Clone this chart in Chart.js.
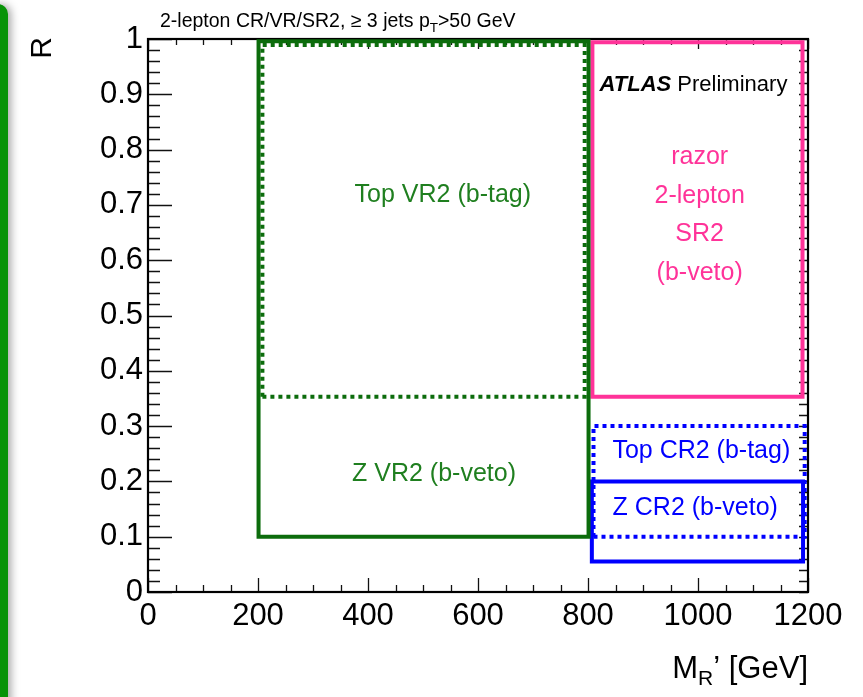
<!DOCTYPE html>
<html>
<head>
<meta charset="utf-8">
<script src="https://cdn.jsdelivr.net/npm/chart.js@4.4.0/dist/chart.umd.min.js"></script>
<style>
  html, body { margin: 0; background: #fff; }
  #wrap { position: relative; width: 863px; height: 697px; overflow: hidden; }
  #tab {
    position: absolute; left: -12px; top: 4px; width: 20px; height: 740px;
    background: #079307; border-radius: 12px;
    box-shadow: 3px 0 8px rgba(0, 0, 0, 0.35);
  }
  canvas { position: absolute; left: 0; top: 0; }
</style>
</head>
<body>
<div id="wrap">
  <div id="tab"></div>
  <canvas id="regions-chart" width="863" height="697"></canvas>
</div>
<script>
;(function(){
  // region boxes in the (MR', R) plane
  const regionNames = ['Z VR2 (b-veto)', 'Top VR2 (b-tag)', 'razor 2-lepton SR2 (b-veto)', 'Top CR2 (b-tag)', 'Z CR2 (b-veto)']
  const mrLow  = [201, 208, 808, 810, 807]
  const mrHigh = [801, 794, 1190, 1194, 1191]
  const rLow   = [0.10, 0.353, 0.353, 0.10, 0.055]
  const rHigh  = [0.996, 0.989, 0.994, 0.30, 0.20]

  // axis tick labels
  const mrTicks = [0, 200, 400, 600, 800, 1000, 1200]
  const rTicks  = [0, 0.1, 0.2, 0.3, 0.4, 0.5, 0.6, 0.7, 0.8, 0.9, 1]

  const GREEN = '#0c6c0c'
  const GREEN_TXT = '#1f7f1f'
  const PINK = '#ff3399'
  const BLUE = '#0000ff'
  const FONT = '"Liberation Sans", Arial, Helvetica, sans-serif'

  const boxStyle = [
    { color: GREEN, dash: [] },
    { color: GREEN, dash: [4, 4] },
    { color: PINK, dash: [] },
    { color: BLUE, dash: [4, 4] },
    { color: BLUE, dash: [] },
  ]

  const datasets = regionNames.map((name, i) => ({
    label: name,
    data: [
      { x: mrLow[i],  y: rLow[i] },
      { x: mrHigh[i], y: rLow[i] },
      { x: mrHigh[i], y: rHigh[i] },
      { x: mrLow[i],  y: rHigh[i] },
      { x: mrLow[i],  y: rLow[i] },
    ],
    showLine: true,
    fill: false,
    tension: 0,
    pointRadius: 0,
    pointHoverRadius: 0,
    borderWidth: 4,
    borderColor: boxStyle[i].color,
    borderDash: boxStyle[i].dash,
    borderCapStyle: boxStyle[i].dash.length ? 'butt' : 'square',
    borderJoinStyle: 'miter',
    clip: false,
  }))

  // text drawn inside the frame, anchored in data coordinates (y = baseline)
  const notes = [
    { text: 'Top VR2 (b-tag)', x: 536, y: 0.705, color: GREEN_TXT },
    { text: 'Z VR2 (b-veto)', x: 520, y: 0.201, color: GREEN_TXT },
    { text: 'razor', x: 1003, y: 0.7736, color: PINK },
    { text: '2-lepton', x: 1003, y: 0.7038, color: PINK },
    { text: 'SR2', x: 1003, y: 0.6341, color: PINK },
    { text: '(b-veto)', x: 1003, y: 0.5643, color: PINK },
    { text: 'Top CR2 (b-tag)', x: 1006, y: 0.2428, color: BLUE },
    { text: 'Z CR2 (b-veto)', x: 995, y: 0.1395, color: BLUE },
  ]

  // draws runs of [text, fontSize, yShift, weight] starting at x
  function drawRuns(ctx, runs, x, y) {
    let cx = x
    runs.forEach(([t, size, dy, weight]) => {
      ctx.font = (weight || '') + ' ' + size + 'px ' + FONT
      ctx.fillText(t, cx, y + dy)
      cx += ctx.measureText(t).width
    })
  }
  function runsWidth(ctx, runs) {
    let w = 0
    runs.forEach(([t, size, dy, weight]) => {
      ctx.font = (weight || '') + ' ' + size + 'px ' + FONT
      w += ctx.measureText(t).width
    })
    return w
  }

  const rootFrame = {
    id: 'rootFrame',
    beforeDatasetsDraw(chart) {
      const ctx = chart.ctx
      const { left, right, top, bottom } = chart.chartArea
      const xs = chart.scales.x, ys = chart.scales.y
      ctx.save()
      ctx.strokeStyle = '#111'
      ctx.lineWidth = 1.3
      ctx.beginPath()
      for (let v = 0; v <= 1200; v += 50) {
        const px = Math.round(xs.getPixelForValue(v)) + 0.5
        const major = v % 200 === 0
        ctx.moveTo(px, bottom); ctx.lineTo(px, bottom - (major ? 14 : 7))
        ctx.moveTo(px, top); ctx.lineTo(px, top + (major ? 10 : 6))
      }
      for (let i = 0; i <= 50; i++) {
        const py = Math.round(ys.getPixelForValue(i * 0.02)) + 0.5
        const major = i % 5 === 0
        ctx.moveTo(left, py); ctx.lineTo(left + (major ? 24 : 12), py)
        ctx.moveTo(right, py); ctx.lineTo(right - 9, py)
      }
      ctx.stroke()
      ctx.lineWidth = 2.2
      ctx.strokeStyle = '#000'
      ctx.strokeRect(left, top, right - left, bottom - top)
      ctx.restore()
    },
    afterDraw(chart) {
      const ctx = chart.ctx
      const xs = chart.scales.x, ys = chart.scales.y
      const { right } = chart.chartArea
      ctx.save()
      ctx.textBaseline = 'alphabetic'

      // region captions
      ctx.textAlign = 'center'
      ctx.font = '25px ' + FONT
      notes.forEach(n => {
        ctx.fillStyle = n.color
        ctx.fillText(n.text, xs.getPixelForValue(n.x), ys.getPixelForValue(n.y))
      })

      ctx.textAlign = 'left'
      ctx.fillStyle = '#000'
      // experiment tag
      drawRuns(ctx, [['ATLAS', 22, 0, 'italic bold'], [' Preliminary', 22, 0]],
        xs.getPixelForValue(821), ys.getPixelForValue(0.906))

      // selection title above the frame
      drawRuns(ctx, [['2-lepton CR/VR/SR2, \u2265 3 jets p', 19.5, 0], ['T', 13.5, 5], ['>50 GeV', 19.5, 0]], 160, 27)

      // x axis title, right aligned to the frame
      const xTitle = [['M', 31, 0], ['R', 21, 7], ['\u2019 [GeV]', 31, 0]]
      drawRuns(ctx, xTitle, right - runsWidth(ctx, xTitle), 678)

      // y axis title
      ctx.translate(51, 37)
      ctx.rotate(-Math.PI / 2)
      ctx.textAlign = 'right'
      ctx.font = '30px ' + FONT
      ctx.fillText('R', 0, 0)
      ctx.restore()
    },
  }

  const config = {
    type: 'scatter',
    data: { datasets },
    options: {
      responsive: false,
      devicePixelRatio: 1,
      animation: false,
      events: [],
      layout: { padding: { top: 39, right: 55, bottom: 0, left: 0 } },
      plugins: {
        legend: { display: false },
        tooltip: { enabled: false },
      },
      scales: {
        x: {
          type: 'linear',
          min: 0,
          max: 1200,
          afterFit: (s) => { s.height = 105 },
          afterBuildTicks: (s) => { s.ticks = mrTicks.map(v => ({ value: v })) },
          grid: { display: false, drawTicks: false },
          border: { display: false },
          ticks: {
            color: '#000',
            font: { family: FONT, size: 31 },
            padding: 6,
            maxRotation: 0,
            callback: (v) => String(v),
          },
        },
        y: {
          type: 'linear',
          min: 0,
          max: 1,
          afterFit: (s) => { s.width = 148 },
          afterBuildTicks: (s) => { s.ticks = rTicks.map(v => ({ value: v })) },
          grid: { display: false, drawTicks: false },
          border: { display: false },
          ticks: {
            color: '#000',
            font: { family: FONT, size: 31 },
            padding: 5,
            callback: (v) => String(+Number(v).toFixed(1)),
          },
        },
      },
    },
    plugins: [rootFrame],
  }

  const ctx = document.getElementById('regions-chart')
  let chart = new Chart(ctx, config)
})()
</script>
</body>
</html>
